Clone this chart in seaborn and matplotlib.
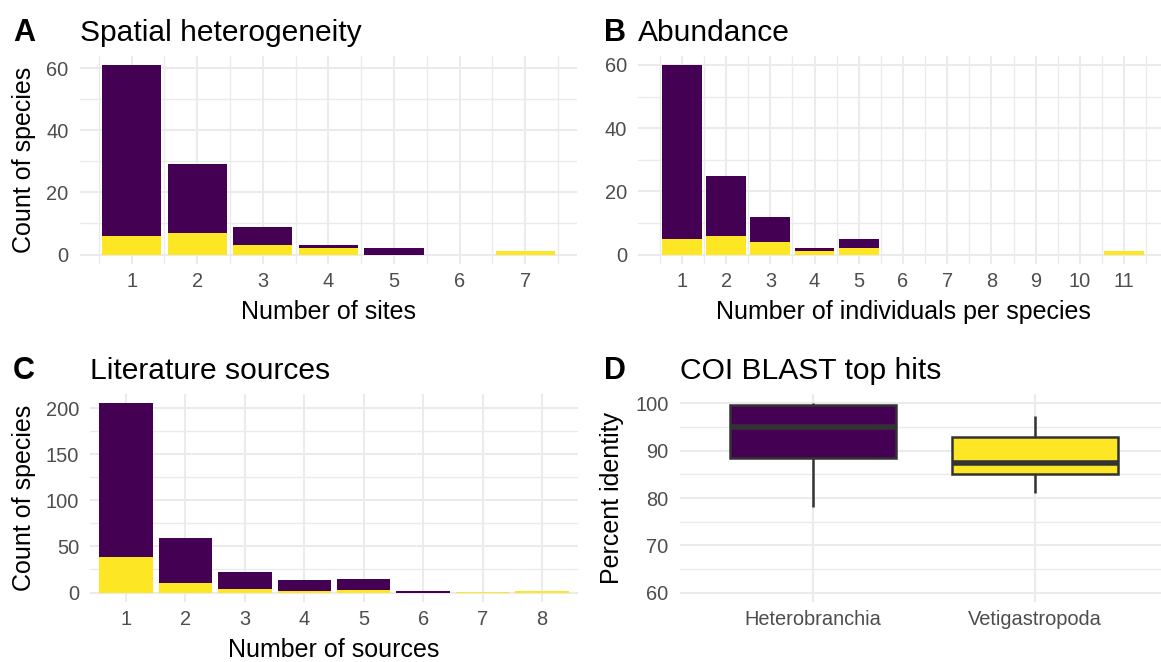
import numpy as np
import pandas as pd
import matplotlib.pyplot as plt
from matplotlib.ticker import FixedLocator, NullFormatter
import seaborn as sns

W, H = 1161, 662

PURPLE = "#440154"
YELLOW = "#FDE725"
GROUPS = ["Heterobranchia", "Vetigastropoda"]

# A: number of sites a species was found at
sites = [1, 2, 3, 4, 5, 6, 7]
sites_het = [55, 22, 6, 1, 2, 0, 0]
sites_vet = [6, 7, 3, 2, 0, 0, 1]

# B: individuals per species
individuals = [1, 2, 3, 4, 5, 6, 7, 8, 9, 10, 11]
indiv_het = [55, 19, 8, 1, 3, 0, 0, 0, 0, 0, 0]
indiv_vet = [5, 6, 4, 1, 2, 0, 0, 0, 0, 0, 1]

# C: literature sources
sources = [1, 2, 3, 4, 5, 6, 7, 8]
sources_het = [166, 49, 18, 12, 12, 2, 0, 0]
sources_vet = [39, 10, 4, 2, 3, 0, 1, 2]

# D: COI BLAST percent identity (values giving the drawn box summaries)
het_identity = [78.0, 88.5, 95.1, 99.6, 100.0]
vet_identity = [81.0, 85.0, 87.4, 93.0, 97.4]

GRID = "#EBEBEB"
TICK_COL = "#4D4D4D"


def long_counts(xs, het, vet):
    return pd.DataFrame({
        "x": list(xs) * 2,
        "group": [GROUPS[0]] * len(xs) + [GROUPS[1]] * len(xs),
        "count": list(het) + list(vet),
    })


def make_ax(fig, left, top, right, bottom):
    return fig.add_axes([left / W, 1 - bottom / H, (right - left) / W, (bottom - top) / H])


def style_ax(ax, xmajor, xminor, ymajor, yminor):
    ax.xaxis.set_major_locator(FixedLocator(xmajor))
    ax.xaxis.set_minor_locator(FixedLocator(xminor))
    ax.yaxis.set_major_locator(FixedLocator(ymajor))
    ax.yaxis.set_minor_locator(FixedLocator(yminor))
    ax.xaxis.set_minor_formatter(NullFormatter())
    ax.yaxis.set_minor_formatter(NullFormatter())
    ax.set_axisbelow(True)
    ax.grid(which="major", color=GRID, linewidth=1.5)
    ax.grid(which="minor", color=GRID, linewidth=1.0)
    for s in ax.spines.values():
        s.set_visible(False)
    ax.tick_params(which="both", length=0, labelsize=14.4, labelcolor=TICK_COL)
    ax.tick_params(axis="y", pad=8)
    ax.tick_params(axis="x", pad=6)
    ax.set_xlabel("")
    ax.set_ylabel("")


def stacked(ax, xs, het, vet):
    df = long_counts(xs, het, vet)
    sns.histplot(data=df, x="x", weights="count", hue="group", hue_order=GROUPS,
                 multiple="stack", discrete=True, shrink=0.9,
                 palette=[PURPLE, YELLOW], alpha=1, linewidth=0,
                 legend=False, ax=ax)


sns.set_theme(style="white")
plt.rcParams["font.family"] = ["Liberation Sans", "DejaVu Sans"]

fig = plt.figure(figsize=(W / 100, H / 100), dpi=100)
fig.patch.set_facecolor("white")

# ---- A
axA = make_ax(fig, 79.5, 55.5, 577.3, 264)
stacked(axA, sites, sites_het, sites_vet)
style_ax(axA, sites, [s + 0.5 for s in [0] + sites], [0, 20, 40, 60], [10, 30, 50])
axA.set_xlim(0.205, 7.795)
axA.set_ylim(-3.05, 64.05)

# ---- B
axB = make_ax(fig, 638, 55.5, 1168, 264)
stacked(axB, individuals, indiv_het, indiv_vet)
style_ax(axB, individuals, [s + 0.5 for s in [0] + individuals], [0, 20, 40, 60], [10, 30, 50])
axB.set_xlim(0.005, 11.995)
axB.set_ylim(-3, 63)

# ---- C
axC = make_ax(fig, 90.3, 394, 577.7, 602)
stacked(axC, sources, sources_het, sources_vet)
style_ax(axC, sources, [], [0, 50, 100, 150, 200], [25, 75, 125, 175])
axC.set_xlim(0.4, 8.6)
axC.set_ylim(-10.25, 215.25)

# ---- D
axD = make_ax(fig, 679.8, 394, 1168.2, 602)
box_df = pd.DataFrame({
    "taxon": [GROUPS[0]] * len(het_identity) + [GROUPS[1]] * len(vet_identity),
    "identity": het_identity + vet_identity,
})
sns.boxplot(data=box_df, x="taxon", y="identity", hue="taxon", hue_order=GROUPS,
            order=GROUPS, palette=[PURPLE, YELLOW], saturation=1, width=0.75,
            linecolor="#333333", linewidth=1.8, showcaps=False,
            medianprops={"linewidth": 4}, legend=False, ax=axD)
style_ax(axD, [0, 1], [], [60, 70, 80, 90, 100], [65, 75, 85, 95])
axD.set_xticklabels(GROUPS)
axD.set_xlim(-0.6, 1.6)
axD.set_ylim(58, 102)

# ---- titles and panel letters
title_kw = dict(fontsize=21.6, va="baseline", ha="left", color="black")
letter_kw = dict(fontsize=22, va="baseline", ha="left", fontweight="bold", color="black")
fig.text(13 / W, 1 - 41 / H, "A", **letter_kw)
fig.text(79.5 / W, 1 - 41 / H, "Spatial heterogeneity", **title_kw)
fig.text(604 / W, 1 - 41 / H, "B", **letter_kw)
fig.text(638 / W, 1 - 41 / H, "Abundance", **title_kw)
fig.text(13 / W, 1 - 379 / H, "C", **letter_kw)
fig.text(90.3 / W, 1 - 379 / H, "Literature sources", **title_kw)
fig.text(604 / W, 1 - 379 / H, "D", **letter_kw)
fig.text(679.8 / W, 1 - 379 / H, "COI BLAST top hits", **title_kw)

# ---- axis titles
lab_kw = dict(fontsize=18, color="black")
fig.text(328.4 / W, 1 - 319 / H, "Number of sites", ha="center", va="baseline", **lab_kw)
fig.text(903 / W, 1 - 319 / H, "Number of individuals per species", ha="center", va="baseline", **lab_kw)
fig.text(334 / W, 1 - 657 / H, "Number of sources", ha="center", va="baseline", **lab_kw)
fig.text(24 / W, 1 - 160 / H, "Count of species", rotation=90, ha="center", va="center", **lab_kw)
fig.text(24 / W, 1 - 498 / H, "Count of species", rotation=90, ha="center", va="center", **lab_kw)
fig.text(612 / W, 1 - 498 / H, "Percent identity", rotation=90, ha="center", va="center", **lab_kw)

fig.savefig("out.png", dpi=100, facecolor="white")
